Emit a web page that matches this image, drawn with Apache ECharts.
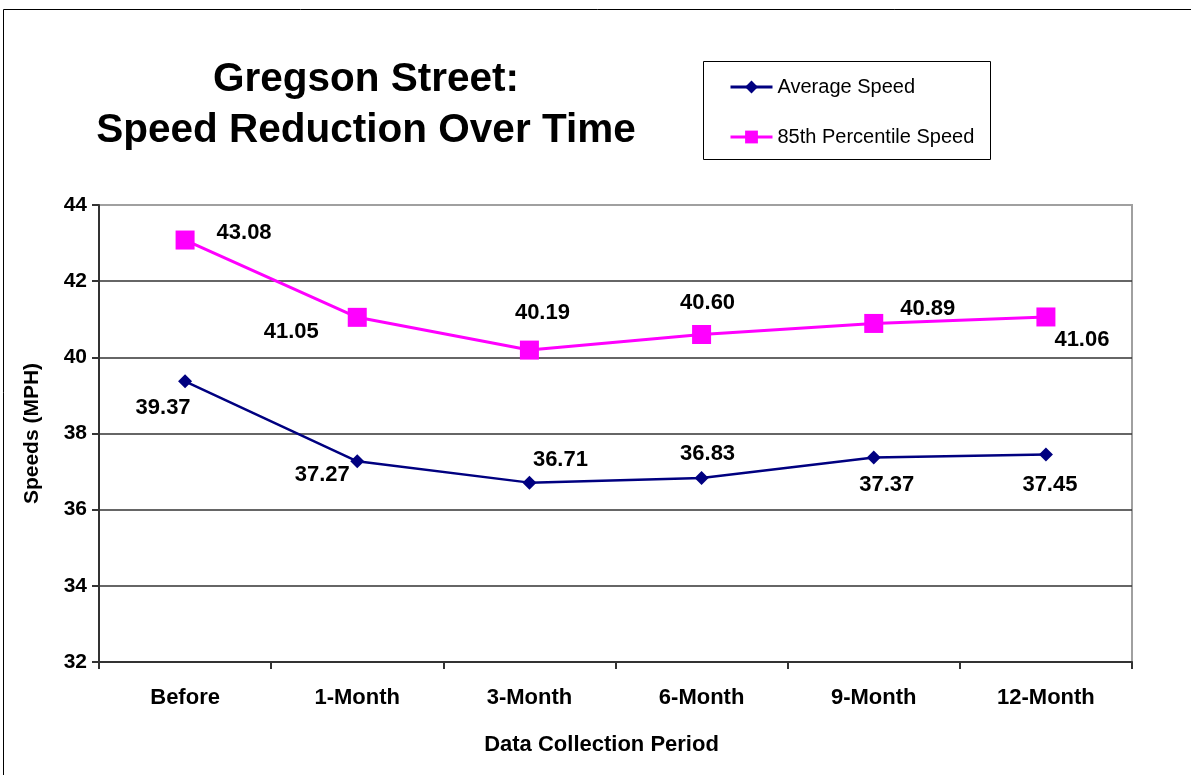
<!DOCTYPE html>
<html><head><meta charset="utf-8">
<script src="https://cdn.jsdelivr.net/npm/echarts@6/dist/echarts.min.js"></script>
<style>html,body{margin:0;padding:0;background:#fff}#c{width:1191px;height:775px}</style>
</head><body><div id="c"></div>
<script>
const categories = ['Before','1-Month','3-Month','6-Month','9-Month','12-Month'];
const averageSpeed = [39.37, 37.27, 36.71, 36.83, 37.37, 37.45];
const pct85Speed = [43.08, 41.05, 40.19, 40.60, 40.89, 41.06];
const yTicks = {min: 32, max: 44, interval: 2};
// label offsets (style only)
const avgOffsets = [[-22,27],[-35,14],[31,-23],[6,-24],[13,27],[4,30]];
const pctOffsets = [[59,-7],[-66,15],[13,-37],[6,-32],[54,-15],[36,23]];

const F = 'Arial, "Liberation Sans", sans-serif';
const lbl = {show:true, position:'inside', color:'#000', fontFamily:F, fontWeight:'bold', fontSize:22,
  formatter: p => p.value.toFixed(2)};
function mk(vals, offs){ return vals.map((v,i)=>({value:v, label:Object.assign({}, lbl, {offset:offs[i]})})); }

const chart = echarts.init(document.getElementById('c'), null, {renderer:'canvas'});
chart.setOption({
  animation:false,
  backgroundColor:'#fff',
  title:{text:'Gregson Street:\nSpeed Reduction Over Time', left:361, top:49, textAlign:'center',
    textStyle:{fontFamily:F, fontWeight:'bold', fontSize:40.5, lineHeight:51, color:'#000'}},
  legend:{orient:'vertical', left:729, top:77, padding:0, itemWidth:42, itemHeight:16, itemGap:30,
    lineStyle:{width:3},
    textStyle:{fontFamily:F, fontSize:20, color:'#000'},
    data:['Average Speed','85th Percentile Speed']},
  graphic:[
    {type:'rect', shape:{x:3.5,y:9.5,width:1300,height:900}, style:{fill:null, stroke:'#000', lineWidth:1}, silent:true, z:-1},
    {type:'rect', shape:{x:703.5,y:61.5,width:287,height:98}, style:{fill:null, stroke:'#000', lineWidth:1}, silent:true}
  ],
  grid:{left:99, right:59, top:205, bottom:113, show:true, borderColor:'#a0a0a0', borderWidth:2},
  xAxis:{type:'category', data:categories, boundaryGap:true,
    name:'Data Collection Period', nameLocation:'middle', nameGap:72,
    nameTextStyle:{fontFamily:F, fontWeight:'bold', fontSize:22, color:'#000', padding:[0,28,0,0]},
    axisLine:{lineStyle:{color:'#333', width:2}},
    axisTick:{show:true, length:7, lineStyle:{color:'#333', width:2}},
    axisLabel:{fontFamily:F, fontWeight:'bold', fontSize:22, color:'#000', margin:25}},
  yAxis:{type:'value', min:yTicks.min, max:yTicks.max, interval:yTicks.interval,
    name:'Speeds (MPH)', nameLocation:'middle', nameGap:56,
    nameTextStyle:{fontFamily:F, fontWeight:'bold', fontSize:21, color:'#000'},
    axisLine:{show:true, lineStyle:{color:'#333', width:2}},
    axisTick:{show:true, length:7, lineStyle:{color:'#333', width:2}},
    axisLabel:{fontFamily:F, fontWeight:'bold', fontSize:21, color:'#000', margin:12},
    splitLine:{show:true, lineStyle:{color:['#333','#333','#333','#333','#333','#333','#a0a0a0'], width:1.5}}},
  series:[
    {name:'Average Speed', type:'line', data:mk(averageSpeed, avgOffsets), symbol:'diamond', symbolSize:14,
      lineStyle:{color:'#000080', width:2.5}, itemStyle:{color:'#000080'}, z:3},
    {name:'85th Percentile Speed', type:'line', data:mk(pct85Speed, pctOffsets), symbol:'rect', symbolSize:19,
      lineStyle:{color:'#ff00ff', width:3}, itemStyle:{color:'#ff00ff'}, z:4}
  ]
});
</script></body></html>
